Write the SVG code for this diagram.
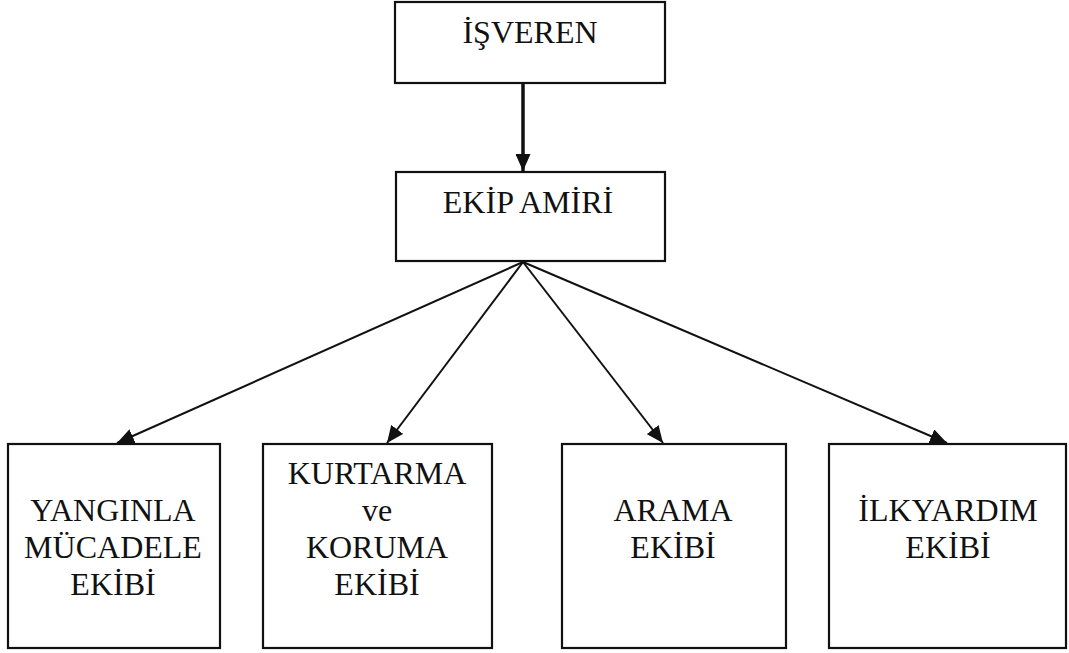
<svg xmlns="http://www.w3.org/2000/svg" width="1069" height="653" viewBox="0 0 1069 653">
<style>
.box{fill:#fff;stroke:#111;stroke-width:2.2}
.t{font-family:"Liberation Serif","Times New Roman",serif;font-size:32px;fill:#111;text-anchor:middle}
.c{stroke:#111;stroke-width:2;fill:none}
.thick{stroke-width:3.5}
</style>
<defs>
<marker id="ah2" viewBox="0 0 10 10" refX="10" refY="5" markerWidth="17" markerHeight="15" markerUnits="userSpaceOnUse" orient="auto" preserveAspectRatio="none">
<path d="M0,0 L10,5 L0,10 z" fill="#111"/>
</marker>
</defs>
<rect width="1069" height="653" fill="#fff"/>
<g id="connectors">
<line class="c thick" x1="523" y1="83" x2="523" y2="171" marker-end="url(#ah2)"/>
<line class="c" x1="523" y1="262" x2="117" y2="443" marker-end="url(#ah2)"/>
<line class="c" x1="523" y1="262" x2="387" y2="443" marker-end="url(#ah2)"/>
<line class="c" x1="523" y1="262" x2="663" y2="443" marker-end="url(#ah2)"/>
<line class="c" x1="523" y1="262" x2="947" y2="443" marker-end="url(#ah2)"/>
</g>
<g id="isveren">
<rect class="box" x="395" y="2" width="270" height="81"/>
<text class="t" x="530" y="43">İŞVEREN</text>
</g>
<g id="ekip-amiri">
<rect class="box" x="396" y="172" width="269" height="89"/>
<text class="t" x="528" y="213">EKİP AMİRİ</text>
</g>
<g id="yanginla">
<rect class="box" x="8" y="444" width="212" height="204"/>
<text class="t" x="113" y="521">YANGINLA</text>
<text class="t" x="113" y="558">MÜCADELE</text>
<text class="t" x="113" y="595">EKİBİ</text>
</g>
<g id="kurtarma">
<rect class="box" x="263" y="444" width="229" height="204"/>
<text class="t" x="377" y="484">KURTARMA</text>
<text class="t" x="377" y="521">ve</text>
<text class="t" x="377" y="558">KORUMA</text>
<text class="t" x="377" y="595">EKİBİ</text>
</g>
<g id="arama">
<rect class="box" x="562" y="444" width="224" height="204"/>
<text class="t" x="673" y="521">ARAMA</text>
<text class="t" x="673" y="558">EKİBİ</text>
</g>
<g id="ilkyardim">
<rect class="box" x="829" y="444" width="237" height="204"/>
<text class="t" x="948" y="521">İLKYARDIM</text>
<text class="t" x="948" y="558">EKİBİ</text>
</g>
</svg>
